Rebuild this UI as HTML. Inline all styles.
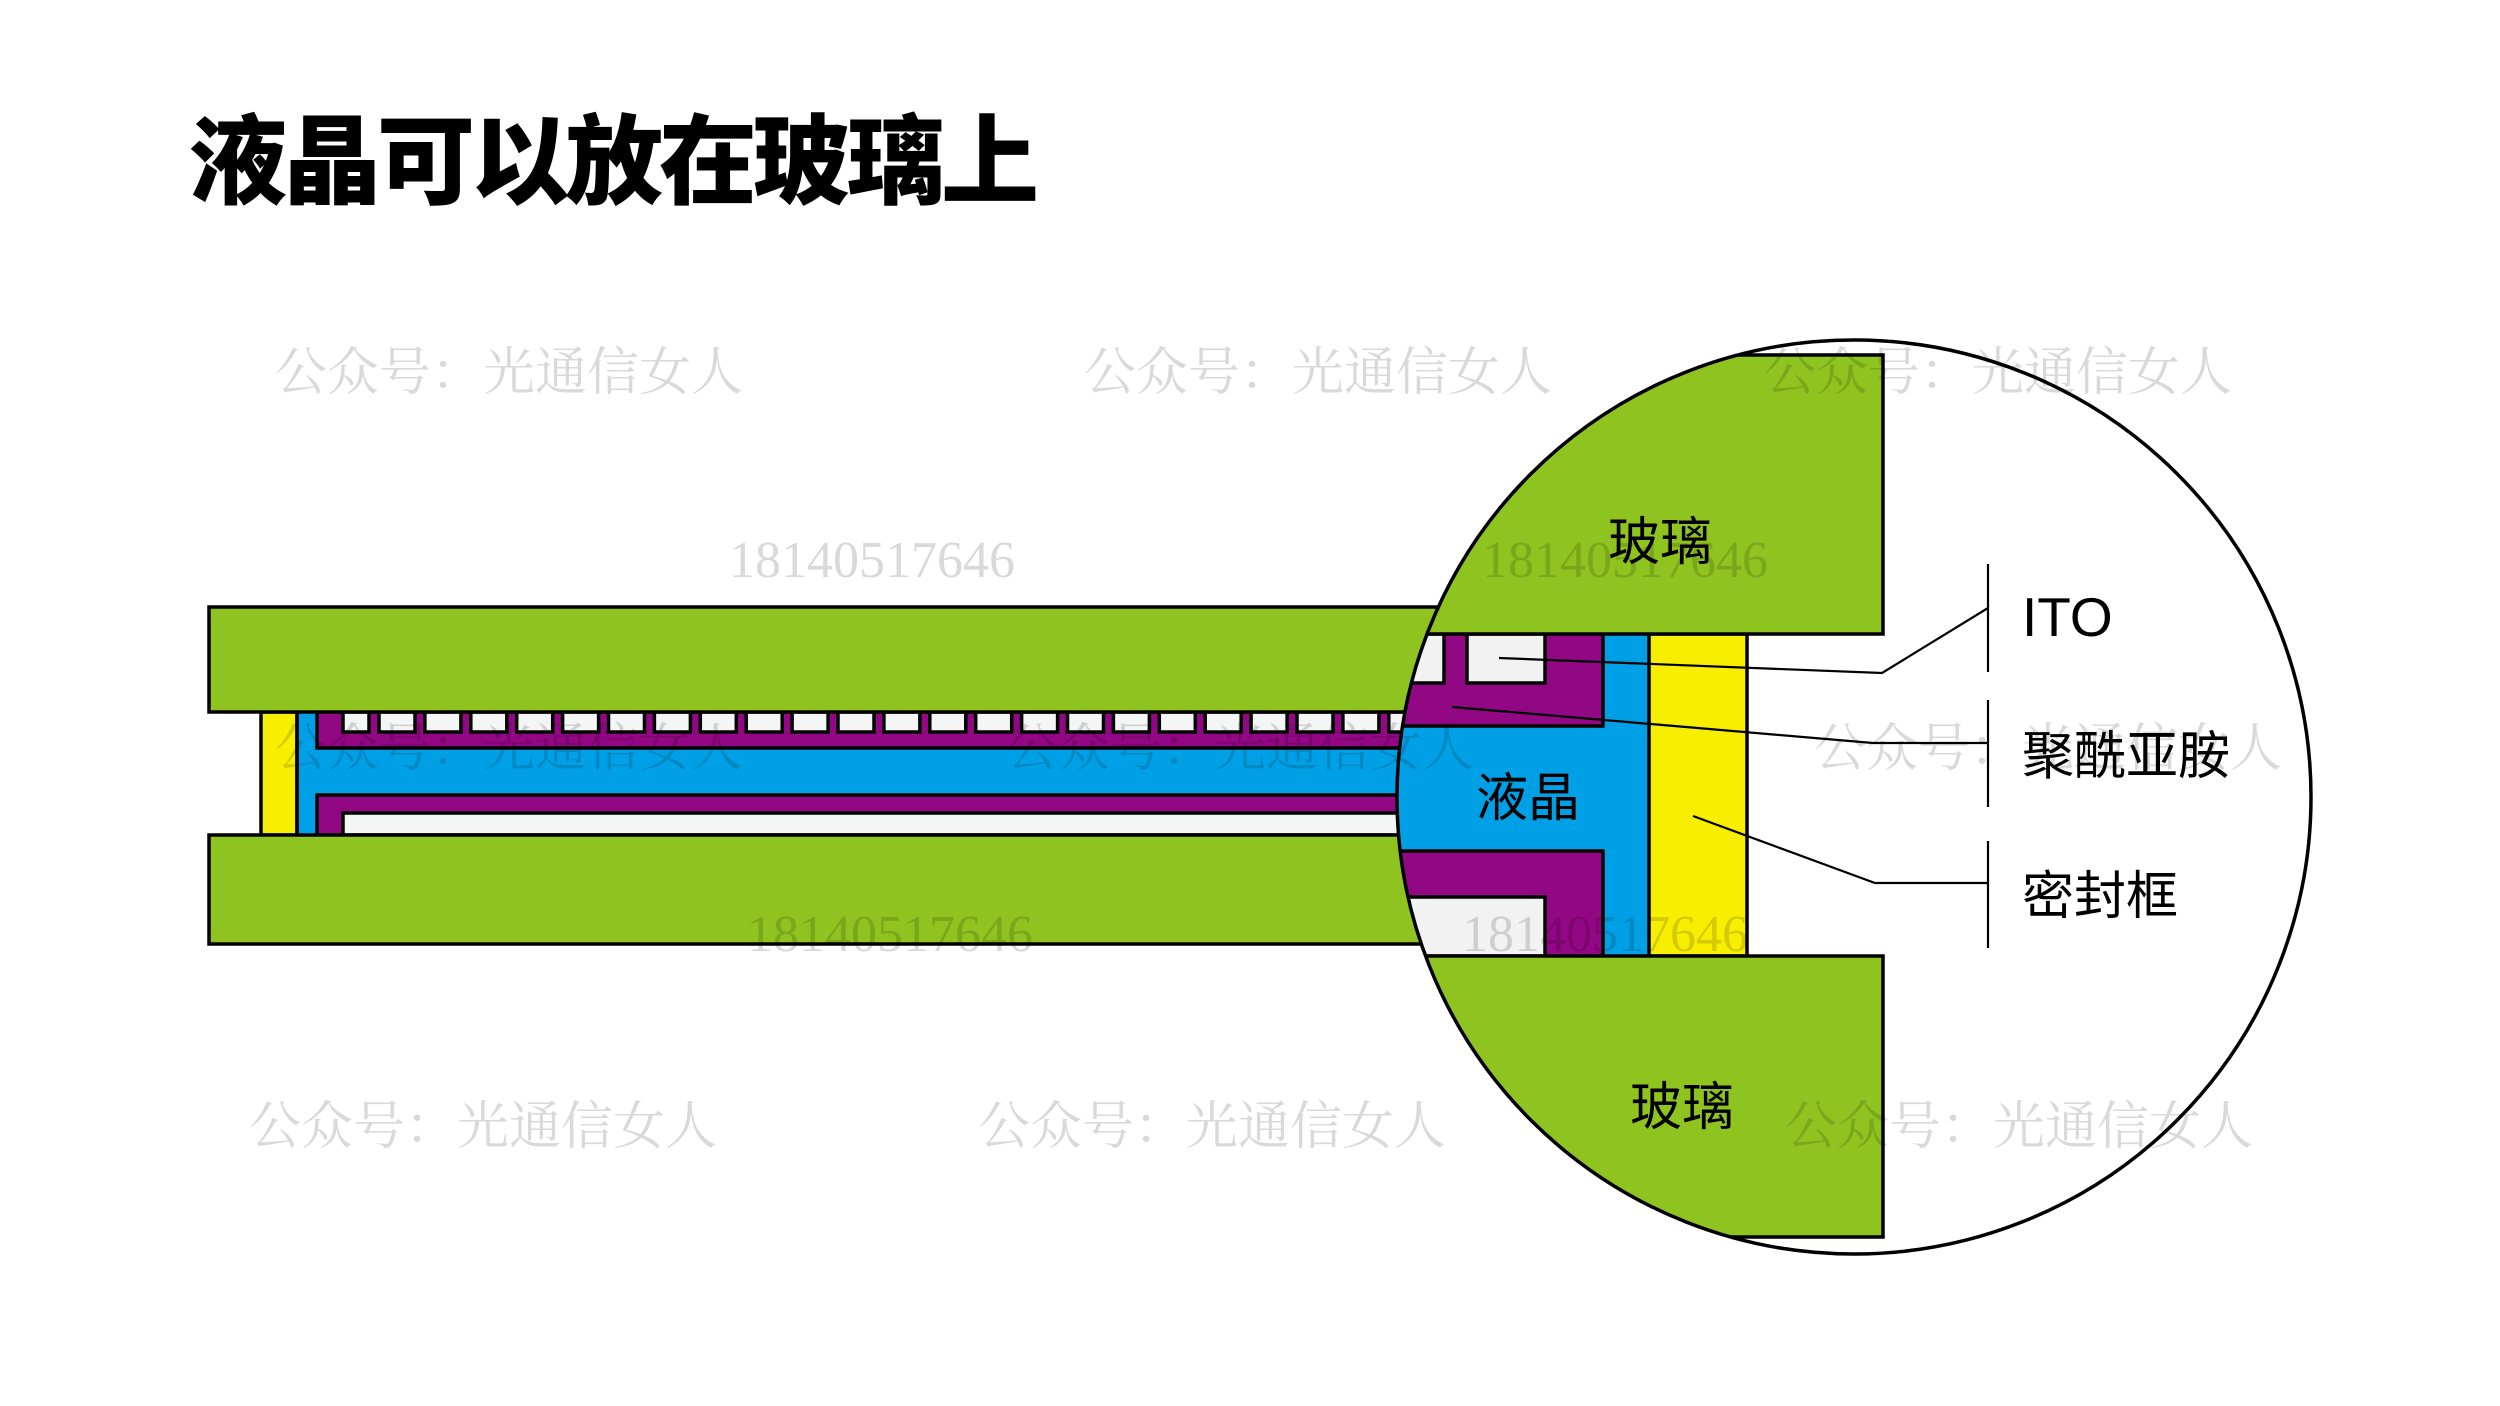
<!DOCTYPE html>
<html>
<head>
<meta charset="utf-8">
<style>
  html, body { margin: 0; padding: 0; background: #fff; }
  body { width: 2500px; height: 1406px; overflow: hidden; }
  svg { display: block; }
</style>
</head>
<body>
<svg width="2500" height="1406" viewBox="0 0 2500 1406" xmlns="http://www.w3.org/2000/svg">
  <defs>
    <clipPath id="circ">
      <circle cx="1854" cy="797" r="457"/>
    </clipPath>
  </defs>
  <rect x="0" y="0" width="2500" height="1406" fill="#ffffff"/>

  <!-- Title -->
  <text x="189" y="196" font-family="'Liberation Sans','Noto Sans CJK SC',sans-serif" font-size="98" font-weight="900" letter-spacing="-4" fill="#000">液晶可以放在玻璃上</text>

  <!-- Left structure -->
  <g stroke="#000" stroke-width="3.5">
    <rect x="297" y="712" width="1160" height="123" fill="#00A0E6" stroke="none"/>
    <rect x="261" y="712" width="36" height="123" fill="#F8EE00"/>
    <line x1="297" y1="712" x2="297" y2="835"/>
    <!-- upper purple -->
    <rect x="317" y="712" width="1150" height="36" fill="#920783"/>
    <!-- boxes -->
    <rect x="343" y="712" width="26" height="20" fill="#F4F6F6"/>
    <g fill="#F4F6F6">
      <rect x="379" y="712" width="36" height="20"/>
      <rect x="424.9" y="712" width="36" height="20"/>
      <rect x="470.8" y="712" width="36" height="20"/>
      <rect x="516.7" y="712" width="36" height="20"/>
      <rect x="562.6" y="712" width="36" height="20"/>
      <rect x="608.5" y="712" width="36" height="20"/>
      <rect x="654.4" y="712" width="36" height="20"/>
      <rect x="700.3" y="712" width="36" height="20"/>
      <rect x="746.2" y="712" width="36" height="20"/>
      <rect x="792.1" y="712" width="36" height="20"/>
      <rect x="838" y="712" width="36" height="20"/>
      <rect x="883.9" y="712" width="36" height="20"/>
      <rect x="929.8" y="712" width="36" height="20"/>
      <rect x="975.7" y="712" width="36" height="20"/>
      <rect x="1021.6" y="712" width="36" height="20"/>
      <rect x="1067.5" y="712" width="36" height="20"/>
      <rect x="1113.4" y="712" width="36" height="20"/>
      <rect x="1159.3" y="712" width="36" height="20"/>
      <rect x="1205.2" y="712" width="36" height="20"/>
      <rect x="1251.1" y="712" width="36" height="20"/>
      <rect x="1297" y="712" width="36" height="20"/>
      <rect x="1342.9" y="712" width="36" height="20"/>
      <rect x="1388.8" y="712" width="36" height="20"/>
    </g>
    <!-- lower purple -->
    <rect x="317" y="795" width="1150" height="40" fill="#920783"/>
    <rect x="343" y="813" width="1124" height="22" fill="#F4F6F6"/>
    <!-- glass -->
    <rect x="209" y="607" width="1300" height="105" fill="#8FC31F"/>
    <rect x="209" y="835" width="1300" height="109" fill="#8FC31F"/>
  </g>

  <!-- Magnifier circle -->
  <circle cx="1854" cy="797" r="457" fill="#ffffff"/>
  <g clip-path="url(#circ)" stroke="#000" stroke-width="3.5">
    <rect x="1300" y="634" width="349" height="322" fill="#00A0E6" stroke="none"/>
    <rect x="1649" y="634" width="98" height="322" fill="#F8EE00"/>
    <!-- upper purple -->
    <rect x="1300" y="634" width="303" height="92" fill="#920783"/>
    <rect x="1300" y="634" width="144" height="49" fill="#F2F2F2"/>
    <rect x="1467" y="634" width="78" height="49" fill="#F2F2F2"/>
    <!-- lower purple -->
    <rect x="1300" y="851" width="303" height="105" fill="#920783"/>
    <rect x="1300" y="897" width="245" height="59" fill="#F2F2F2"/>
    <!-- glass -->
    <rect x="1250" y="355" width="633" height="279" fill="#8FC31F"/>
    <rect x="1250" y="956" width="633" height="281" fill="#8FC31F"/>
  </g>
  <circle cx="1854" cy="797" r="457" fill="none" stroke="#000" stroke-width="3.5"/>

  <!-- In-circle labels -->
  <g font-family="'Liberation Sans','Noto Sans CJK SC',sans-serif" font-size="52" fill="#000">
    <text x="1608" y="560">玻璃</text>
    <text x="1630" y="1125">玻璃</text>
    <text x="1476" y="816">液晶</text>
  </g>

  <!-- Leader lines -->
  <g stroke="#000" stroke-width="2.2" fill="none">
    <polyline points="1499,658 1882,673 1988,608"/>
    <polyline points="1452,707 1873,743 1988,743"/>
    <polyline points="1693,816 1875,883 1988,883"/>
    <line x1="1988" y1="564" x2="1988" y2="672"/>
    <line x1="1988" y1="700" x2="1988" y2="807"/>
    <line x1="1988" y1="841" x2="1988" y2="948"/>
  </g>

  <!-- Right labels -->
  <text x="2022" y="636" font-family="'Liberation Sans',sans-serif" font-size="55" fill="#000">ITO</text>
  <g font-family="'Liberation Sans','Noto Sans CJK SC',sans-serif" font-size="52" fill="#000">
    <text x="2022" y="774">聚酰亚胺</text>
    <text x="2022" y="914">密封框</text>
  </g>

  <!-- Watermarks -->
  <g font-family="'Liberation Serif','Noto Serif CJK SC',serif" font-size="52" fill="#000" fill-opacity="0.15">
    <text x="275" y="390">公众号：光通信女人</text>
    <text x="1084" y="390">公众号：光通信女人</text>
    <text x="1764" y="390">公众号：光通信女人</text>
    <text x="275" y="766">公众号：光通信女人</text>
    <text x="1006" y="766">公众号：光通信女人</text>
    <text x="1814" y="766">公众号：光通信女人</text>
    <text x="249" y="1144">公众号：光通信女人</text>
    <text x="978" y="1144">公众号：光通信女人</text>
    <text x="1785" y="1144">公众号：光通信女人</text>
  </g>
  <g font-family="'Liberation Serif',serif" font-size="52" fill="#000" fill-opacity="0.15">
    <text x="729" y="577">18140517646</text>
    <text x="1482" y="577">18140517646</text>
    <text x="747" y="951">18140517646</text>
    <text x="1462" y="951">18140517646</text>
  </g>
</svg>
</body>
</html>
